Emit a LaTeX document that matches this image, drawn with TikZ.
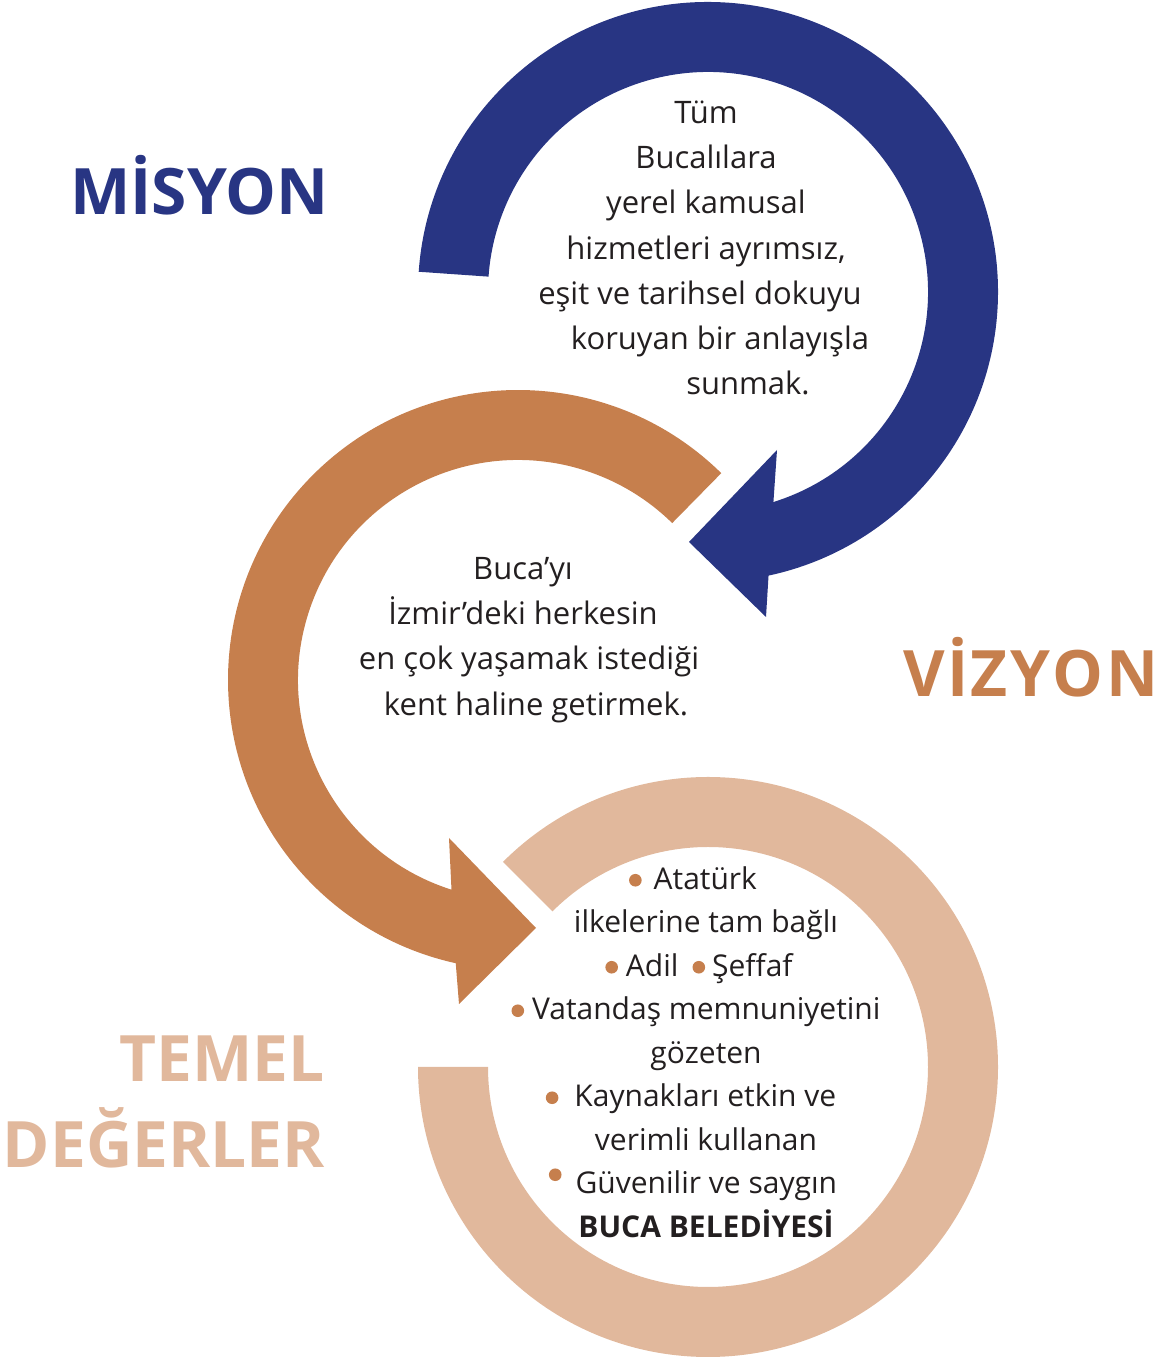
\documentclass[tikz,border=0pt]{standalone}
\usepackage{fontspec}
\setmainfont{Open Sans}
\usetikzlibrary{calc}
\definecolor{navy}{HTML}{283583}
\definecolor{copper}{HTML}{C67F4D}
\definecolor{sand}{HTML}{E1B89C}
\definecolor{ink}{HTML}{231F20}
\tikzset{
  title/.style={font=\bfseries\fontsize{64}{64}\selectfont,inner sep=0pt},
  body/.style={text=ink,align=center,inner sep=0pt,
    font=\fontsize{31}{45.3}\selectfont}
}
\newcommand{\bul}{\tikz[baseline=-9pt]\fill[copper] (0,0) circle (6.3pt);}
\newcommand{\padr}[1]{\hspace*{#1}\mbox{}}

\begin{document}
\begin{tikzpicture}[x=1pt,y=1pt]
\useasboundingbox (0,0) rectangle (1162,1357);

% rings
\fill[sand] (708,290) ++(135:290pt)
  arc[start angle=135,end angle=-180,radius=290pt] -- ++(70pt,0)
  arc[start angle=-180,end angle=135,radius=220pt] -- cycle;
\fill[copper] (518,677) ++(45.5:290pt)
  arc[start angle=45.5,end angle=257.6,radius=290pt]
  -- (459,353) -- (536,429) -- (449,519)
  -- ($(518,677)+(252.4:220pt)$)
  arc[start angle=252.4,end angle=45.5,radius=220pt] -- cycle;
\fill[navy] (708,1065) ++(176:290pt)
  arc[start angle=176,end angle=-77.95,radius=290pt]
  -- (766,740) -- (689,815) -- (777,907)
  -- ($(708,1065)+(-72.7:220pt)$)
  arc[start angle=-72.7,end angle=176,radius=220pt] -- cycle;

% titles
\node[title,text=navy,anchor=base west] (misyon) at (70,1142) {MİSYON};
\node[title,text=copper,anchor=base west] (vizyon) at (903,660) {V\kern2.5ptİ\kern2.5ptZ\kern2.5ptY\kern2.5ptO\kern2.5ptN};
\node[title,text=sand,anchor=base east] (temel) at (325,275) {TEMEL};
\node[title,text=sand,anchor=base east] (degerler) at (325,189) {DEĞERLER};

% texts
\node[body] (mtext) at (706,1109) {
Tüm\\
Bucalılara\\
yerel kamusal\\
hizmetleri ayrımsız,\\
eşit ve tarihsel dokuyu\padr{12pt}\\
\hspace*{28pt}koruyan bir anlayışla\\
\hspace*{84pt}sunmak.
};
\node[body] (vtext) at (523,717) {
Buca’yı\\
İzmir’deki herkesin\\
\hspace*{12pt}en çok yaşamak istediği\\
\hspace*{26pt}kent haline getirmek.
};
\node[body,font=\fontsize{30}{43.5}\selectfont] (dtext) at (706,305) {
\bul\hspace{12pt}Atatürk\padr{26pt}\\
ilkelerine tam bağlı\\
\bul\hspace{8pt}Adil\hspace{14pt}\bul\hspace{7pt}Şeffaf\padr{14pt}\\
\bul\hspace{8pt}Vatandaş memnuniyetini\padr{20pt}\\
gözeten\\
\bul\hspace{16pt}Kaynakları etkin ve\padr{30pt}\\
verimli kullanan\\
\raisebox{10pt}{\bul}\hspace{14pt}Güvenilir ve saygın\padr{26pt}\\
\textbf{BUCA BELEDİYESİ}
};
\end{tikzpicture}
\end{document}
